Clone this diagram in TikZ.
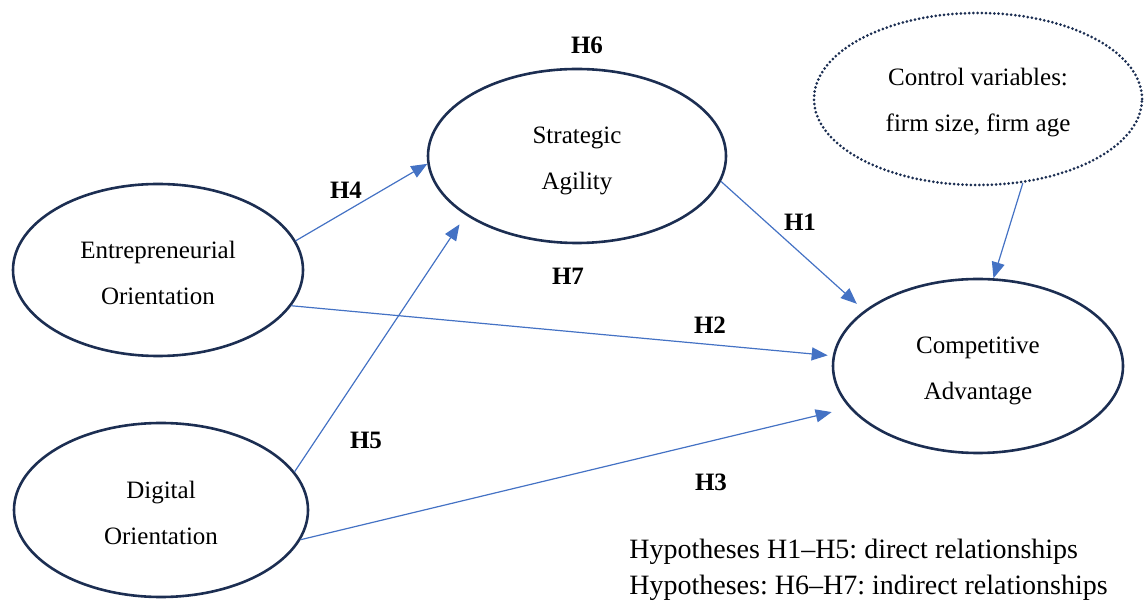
\documentclass[tikz,border=0pt]{standalone}
\usepackage{fontspec}
\setmainfont{Liberation Serif}
\usepackage{tikz}
\usetikzlibrary{shapes.geometric, arrows.meta}
\definecolor{navy}{HTML}{1C2E52}
\definecolor{lineblue}{HTML}{4472C4}

\tikzset{
  construct/.style={ellipse, draw=navy, line width=1.3pt, inner sep=0pt},
  control/.style={construct, line width=1.5pt, line cap=round, dash pattern=on 0pt off 2.1pt},
  ctext/.style={align=center, inner sep=0pt, font=\fontsize{12.5}{23}\selectfont},
  hyp/.style={font=\fontsize{12.5}{15}\selectfont\bfseries},
  link/.style={draw=lineblue, line width=0.6pt, -{Triangle[length=8pt,width=6.5pt]}},
  note/.style={anchor=base west, inner sep=0pt, font=\fontsize{14}{18}\selectfont}
}

\begin{document}
\frenchspacing
\begin{tikzpicture}[x=0.5pt, y=-0.5pt]
\useasboundingbox (0,0) rectangle (1144,603);

% Construtos
\node[construct, minimum width=145pt, minimum height=86pt] (eo) at (158,270) {};
\node[construct, minimum width=147pt, minimum height=87pt] (do) at (161,510) {};
\node[construct, minimum width=149pt, minimum height=87pt] (sa) at (577,156) {};
\node[construct, minimum width=145pt, minimum height=87pt] (ca) at (978,366) {};
\node[ctext] (eotext) at ([yshift=-1.5pt]eo.center) {Entrepreneurial\\Orientation};
\node[ctext] (dotext) at ([yshift=-1.5pt]do.center) {Digital\\Orientation};
\node[ctext] (satext) at ([yshift=-2.5pt]sa.center) {Strategic\\Agility};
\node[ctext] (catext) at ([yshift=-2.5pt]ca.center) {Competitive\\Advantage};

% Variaveis de controle
\node[control, minimum width=164pt, minimum height=86pt] (cv) at (978,99) {};
\node[ctext] (cvtext) at ([yshift=-2pt]cv.center) {Control variables:\\firm size, firm age};

% Hipoteses
\draw[link] (eo.12) -- (sa.183);
\draw[link, shorten >=5.5pt] (do.16) -- (sa.208);
\draw[link, shorten >=2.5pt] (eo.-15) -- (ca.176.6);
\draw[link, shorten >=9pt] (do.-12) -- (ca.198);
\draw[link, shorten >=5pt] (sa.-10) -- (ca.154);
\draw[link] (cv.-62) -- (ca.80);

% Rotulos
\node[hyp] (h6) at (587,45) {H6};
\node[hyp] (h4) at (346,190) {H4};
\node[hyp] (h1) at (800,222) {H1};
\node[hyp] (h7) at (568,276) {H7};
\node[hyp] (h2) at (710,325) {H2};
\node[hyp] (h5) at (366,440) {H5};
\node[hyp] (h3) at (711,482) {H3};

% Legenda
\node[note] (note1) at (629,558) {Hypotheses H1--H5: direct relationships};
\node[note] (note2) at (629,594) {Hypotheses: H6--H7: indirect relationships};

\end{tikzpicture}
\end{document}
